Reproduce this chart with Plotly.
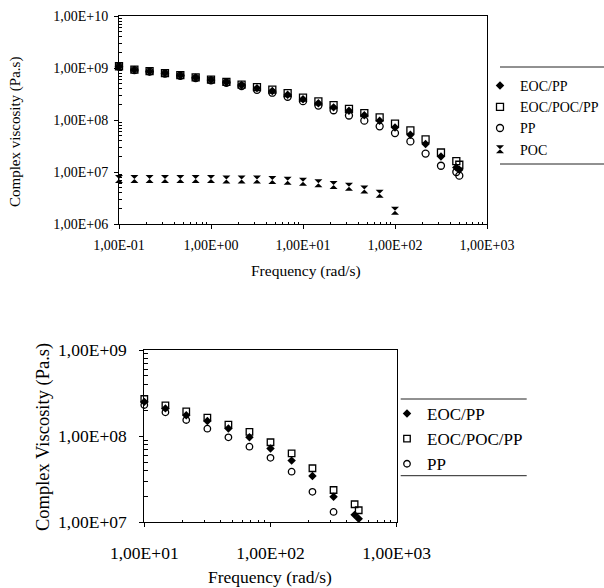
import plotly.graph_objects as go

# ---------------- data ----------------
freq = [0.1, 0.147, 0.215, 0.316, 0.464, 0.681, 1.0, 1.47, 2.15, 3.16, 4.64, 6.81,
        10.0, 14.7, 21.5, 31.6, 46.4, 68.1, 100.0, 147.0, 215.0, 316.0, 464.0, 500.0]
eoc_pp = [1.07e9, 9.2e8, 8.6e8, 7.9e8, 7.2e8, 6.5e8, 5.9e8, 5.3e8, 4.7e8, 4.1e8, 3.6e8, 3.05e8,
          2.5e8, 2.1e8, 1.75e8, 1.5e8, 1.23e8, 9.7e7, 7.2e7, 5.2e7, 3.45e7, 1.98e7, 1.22e7, 1.1e7]
eoc_poc_pp = [1.08e9, 9.3e8, 8.7e8, 8.0e8, 7.3e8, 6.6e8, 6.0e8, 5.4e8, 4.8e8, 4.3e8, 3.85e8, 3.3e8,
              2.7e8, 2.28e8, 1.94e8, 1.64e8, 1.36e8, 1.12e8, 8.5e7, 6.3e7, 4.24e7, 2.37e7, 1.62e7, 1.38e7]
pp = [1.06e9, 9.1e8, 8.5e8, 7.8e8, 7.1e8, 6.4e8, 5.8e8, 5.2e8, 4.5e8, 3.8e8, 3.35e8, 2.8e8,
      2.3e8, 1.89e8, 1.54e8, 1.22e8, 9.7e7, 7.55e7, 5.6e7, 3.87e7, 2.26e7, 1.32e7, 1.0e7, 8.5e6]
poc_freq = [0.1, 0.147, 0.215, 0.316, 0.464, 0.681, 1.0, 1.47, 2.15, 3.16, 4.64, 6.81,
            10.0, 14.7, 21.5, 31.6, 46.4, 68.1, 100.0]
poc = [7.3e6, 7.3e6, 7.3e6, 7.3e6, 7.3e6, 7.3e6, 7.3e6, 7.2e6, 7.2e6, 7.2e6, 7.0e6, 6.8e6,
       6.5e6, 6.1e6, 5.6e6, 5.2e6, 4.6e6, 3.8e6, 1.8e6]

top_x_ticks = [0.1, 1, 10, 100, 1000]
top_x_text = ["1,00E-01", "1,00E+00", "1,00E+01", "1,00E+02", "1,00E+03"]
top_y_ticks = [1e6, 1e7, 1e8, 1e9, 1e10]
top_y_text = ["1,00E+06", "1,00E+07", "1,00E+08", "1,00E+09", "1,00E+10"]
bot_x_ticks = [10, 100, 1000]
bot_x_text = ["1,00E+01", "1,00E+02", "1,00E+03"]
bot_y_ticks = [1e7, 1e8, 1e9]
bot_y_text = ["1,00E+07", "1,00E+08", "1,00E+09"]

# ---------------- helpers ----------------
W, H = 604, 588
FONT = "Liberation Serif, Times New Roman, serif"


def px(x):
    return x / W


def py(y):
    return 1 - y / H


def minor_vals(lo, hi):
    vals = []
    for e in range(lo, hi):
        for m in range(2, 10):
            vals.append(m * 10 ** e)
    return vals


def subset(xs, ys, xmin, ymin):
    pairs = [(a, b) for a, b in zip(xs, ys) if a >= xmin and b > ymin]
    return [p[0] for p in pairs], [p[1] for p in pairs]


fig = go.Figure()

series = [
    ("EOC/PP", eoc_pp, dict(symbol="diamond", color="black", size=6.5)),
    ("EOC/POC/PP", eoc_poc_pp, dict(symbol="square-open", color="black", size=7, line=dict(width=1.3, color="black"))),
    ("PP", pp, dict(symbol="circle-open", color="black", size=7, line=dict(width=1.3, color="black"))),
]

# top chart
for name, ys, mk in series:
    fig.add_trace(go.Scatter(x=freq, y=ys, mode="markers", name=name, marker=mk,
                             xaxis="x", yaxis="y", legend="legend", cliponaxis=False))
fig.add_trace(go.Scatter(x=poc_freq, y=poc, mode="markers", name="POC",
                         marker=dict(symbol="hourglass", color="black", size=8),
                         xaxis="x", yaxis="y", legend="legend", cliponaxis=False))

# bottom chart
for name, ys, mk in series:
    xs2, ys2 = subset(freq, ys, 10, 1e7)
    mk2 = dict(mk)
    mk2["size"] = 6.5
    fig.add_trace(go.Scatter(x=xs2, y=ys2, mode="markers", name=name, marker=mk2,
                             xaxis="x2", yaxis="y2", legend="legend2", cliponaxis=False))

axis_common = dict(type="log", showgrid=False, zeroline=False, showline=True, mirror=True,
                   linecolor="black", linewidth=1, ticks="outside", ticklen=4,
                   tickcolor="black", tickmode="array", automargin=False)

fig.update_layout(
    template="none",
    width=W, height=H, autosize=False,
    margin=dict(l=0, r=0, t=0, b=0, pad=0),
    paper_bgcolor="white", plot_bgcolor="white",
    font=dict(family=FONT, color="black"),
    xaxis=dict(axis_common, range=[-1, 3], domain=[px(119), px(487)], anchor="y",
               tickvals=top_x_ticks, ticktext=top_x_text, ticklabelstandoff=4,
               tickfont=dict(family=FONT, size=14, color="black"),
               minor=dict(tickvals=minor_vals(-1, 3), ticks="inside", ticklen=2, tickcolor="black")),
    yaxis=dict(axis_common, range=[6, 10], domain=[py(224), py(16)], anchor="x",
               tickvals=top_y_ticks, ticktext=top_y_text, ticklabelstandoff=3,
               tickfont=dict(family=FONT, size=14, color="black"),
               minor=dict(tickvals=minor_vals(6, 10), ticks="inside", ticklen=3, tickcolor="black")),
    xaxis2=dict(axis_common, range=[1, 3], domain=[px(144.3), px(396.7)], anchor="y2",
                tickvals=bot_x_ticks, ticktext=bot_x_text, ticklabelstandoff=11,
                tickfont=dict(family=FONT, size=17.5, color="black"),
                minor=dict(tickvals=minor_vals(1, 3), ticks="inside", ticklen=2, tickcolor="black")),
    yaxis2=dict(axis_common, range=[7, 9], domain=[py(522.3), py(350)], anchor="x2",
                tickvals=bot_y_ticks, ticktext=bot_y_text, ticklabelstandoff=9,
                tickfont=dict(family=FONT, size=17.5, color="black"),
                minor=dict(tickvals=minor_vals(7, 9), ticks="inside", ticklen=4, tickcolor="black")),
    legend=dict(x=1, y=py(70), xanchor="right", yanchor="top",
                bgcolor="rgba(0,0,0,0)", borderwidth=0,
                font=dict(family=FONT, size=14, color="black")),
    legend2=dict(x=px(387), y=py(396), xanchor="left", yanchor="top",
                 bgcolor="rgba(0,0,0,0)", borderwidth=0,
                 font=dict(family=FONT, size=17, color="black")),
    showlegend=True,
)

annotations = [
    dict(text="Complex viscosity (Pa.s)", x=px(15), y=py(132), textangle=-90,
         font=dict(family=FONT, size=15, color="black")),
    dict(text="Frequency (rad/s)", x=px(306), y=py(271),
         font=dict(family=FONT, size=15.5, color="black")),
    dict(text="Complex Viscosity (Pa.s)", x=px(43), y=py(437), textangle=-90,
         font=dict(family=FONT, size=18.5, color="black")),
    dict(text="Frequency (rad/s)", x=px(270), y=py(577),
         font=dict(family=FONT, size=17.5, color="black")),
]
for a in annotations:
    a.update(xref="paper", yref="paper", showarrow=False, xanchor="center", yanchor="middle")
fig.update_layout(annotations=annotations)

line_style = dict(color="#222222", width=1)
shapes = [
    dict(type="line", x0=px(500), x1=px(604), y0=py(67), y1=py(67)),
    dict(type="line", x0=px(500), x1=px(604), y0=py(164), y1=py(164)),
    dict(type="line", x0=px(400.7), x1=px(526.7), y0=py(399), y1=py(399)),
    dict(type="line", x0=px(400.7), x1=px(526.7), y0=py(475.7), y1=py(475.7)),
]
for s in shapes:
    s.update(xref="paper", yref="paper", line=line_style)
fig.update_layout(shapes=shapes)

fig.write_html("out.html")
